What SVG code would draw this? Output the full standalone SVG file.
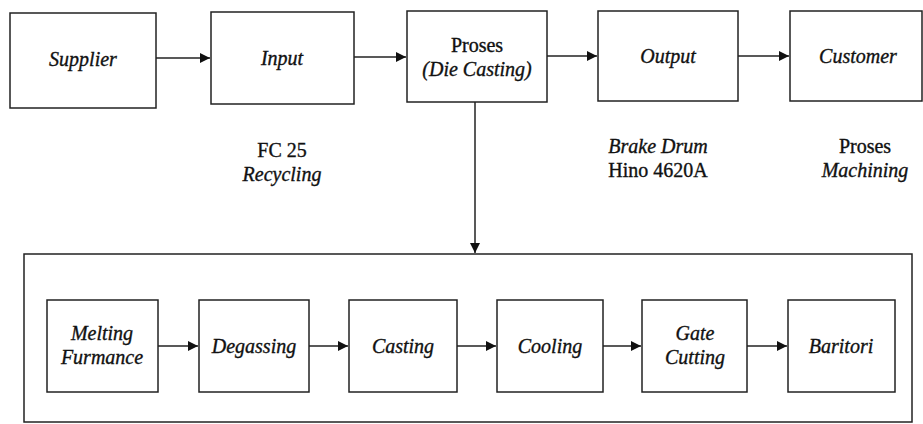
<svg xmlns="http://www.w3.org/2000/svg" width="923" height="424" viewBox="0 0 923 424">
<style>
.box{fill:#fff;stroke:#222;stroke-width:1.5}
.frame{fill:none;stroke:#222;stroke-width:1.5}
.lbl{font-family:"Liberation Serif",serif;font-size:20px;font-style:italic;fill:#111;stroke:#111;stroke-width:0.35;text-anchor:middle}
.up{font-style:normal}
.con{stroke:#222;stroke-width:1.5;fill:none}
</style>
<defs>
<marker id="ah" viewBox="0 0 10 10" refX="10" refY="5" markerWidth="10" markerHeight="10" markerUnits="userSpaceOnUse" orient="auto">
<path d="M0,0 L10,5 L0,10 z" fill="#111"/>
</marker>
</defs>
<rect width="923" height="424" fill="#fff"/>
<g id="die-casting-group"><rect class="frame" x="24" y="254" width="888" height="168"/></g>
<g id="connectors">
<line class="con" x1="156" y1="58" x2="210" y2="58" marker-end="url(#ah)"/>
<line class="con" x1="354" y1="57" x2="406" y2="57" marker-end="url(#ah)"/>
<line class="con" x1="547" y1="56" x2="597" y2="56" marker-end="url(#ah)"/>
<line class="con" x1="738" y1="56" x2="789" y2="56" marker-end="url(#ah)"/>
<line class="con" x1="475" y1="102" x2="475" y2="253" marker-end="url(#ah)"/>
<line class="con" x1="158" y1="346" x2="198" y2="346" marker-end="url(#ah)"/>
<line class="con" x1="309" y1="346" x2="348" y2="346" marker-end="url(#ah)"/>
<line class="con" x1="457" y1="346" x2="496" y2="346" marker-end="url(#ah)"/>
<line class="con" x1="603" y1="346" x2="641" y2="346" marker-end="url(#ah)"/>
<line class="con" x1="747" y1="346" x2="787" y2="346" marker-end="url(#ah)"/>
</g>
<g id="supplier"><rect class="box" x="10" y="13" width="146" height="95"/><text class="lbl" x="83" y="66">Supplier</text></g>
<g id="input"><rect class="box" x="211" y="12" width="143" height="92"/><text class="lbl" x="282" y="65">Input</text></g>
<g id="proses"><rect class="box" x="407" y="11" width="140" height="91"/><text class="lbl up" x="477" y="52">Proses</text><text class="lbl" x="477" y="76">(Die Casting)</text></g>
<g id="output"><rect class="box" x="598" y="11" width="140" height="90"/><text class="lbl" x="668" y="63">Output</text></g>
<g id="customer"><rect class="box" x="790" y="11" width="132" height="90"/><text class="lbl" x="858" y="63">Customer</text></g>
<g id="note-fc25"><text class="lbl up" x="282" y="157">FC 25</text><text class="lbl" x="282" y="181">Recycling</text></g>
<g id="note-brake"><text class="lbl" x="658" y="153">Brake Drum</text><text class="lbl up" x="658" y="177">Hino 4620A</text></g>
<g id="note-machining"><text class="lbl up" x="865" y="153">Proses</text><text class="lbl" x="865" y="177">Machining</text></g>
<g id="melting"><rect class="box" x="47" y="300" width="111" height="92"/><text class="lbl" x="102" y="340">Melting</text><text class="lbl" x="102" y="364">Furmance</text></g>
<g id="degassing"><rect class="box" x="199" y="300" width="110" height="92"/><text class="lbl" x="254" y="353">Degassing</text></g>
<g id="casting"><rect class="box" x="349" y="300" width="108" height="92"/><text class="lbl" x="403" y="353">Casting</text></g>
<g id="cooling"><rect class="box" x="497" y="300" width="106" height="92"/><text class="lbl" x="550" y="353">Cooling</text></g>
<g id="gate-cutting"><rect class="box" x="642" y="300" width="105" height="92"/><text class="lbl" x="695" y="340">Gate</text><text class="lbl" x="695" y="364">Cutting</text></g>
<g id="baritori"><rect class="box" x="788" y="300" width="107" height="92"/><text class="lbl" x="841" y="353">Baritori</text></g>
</svg>
